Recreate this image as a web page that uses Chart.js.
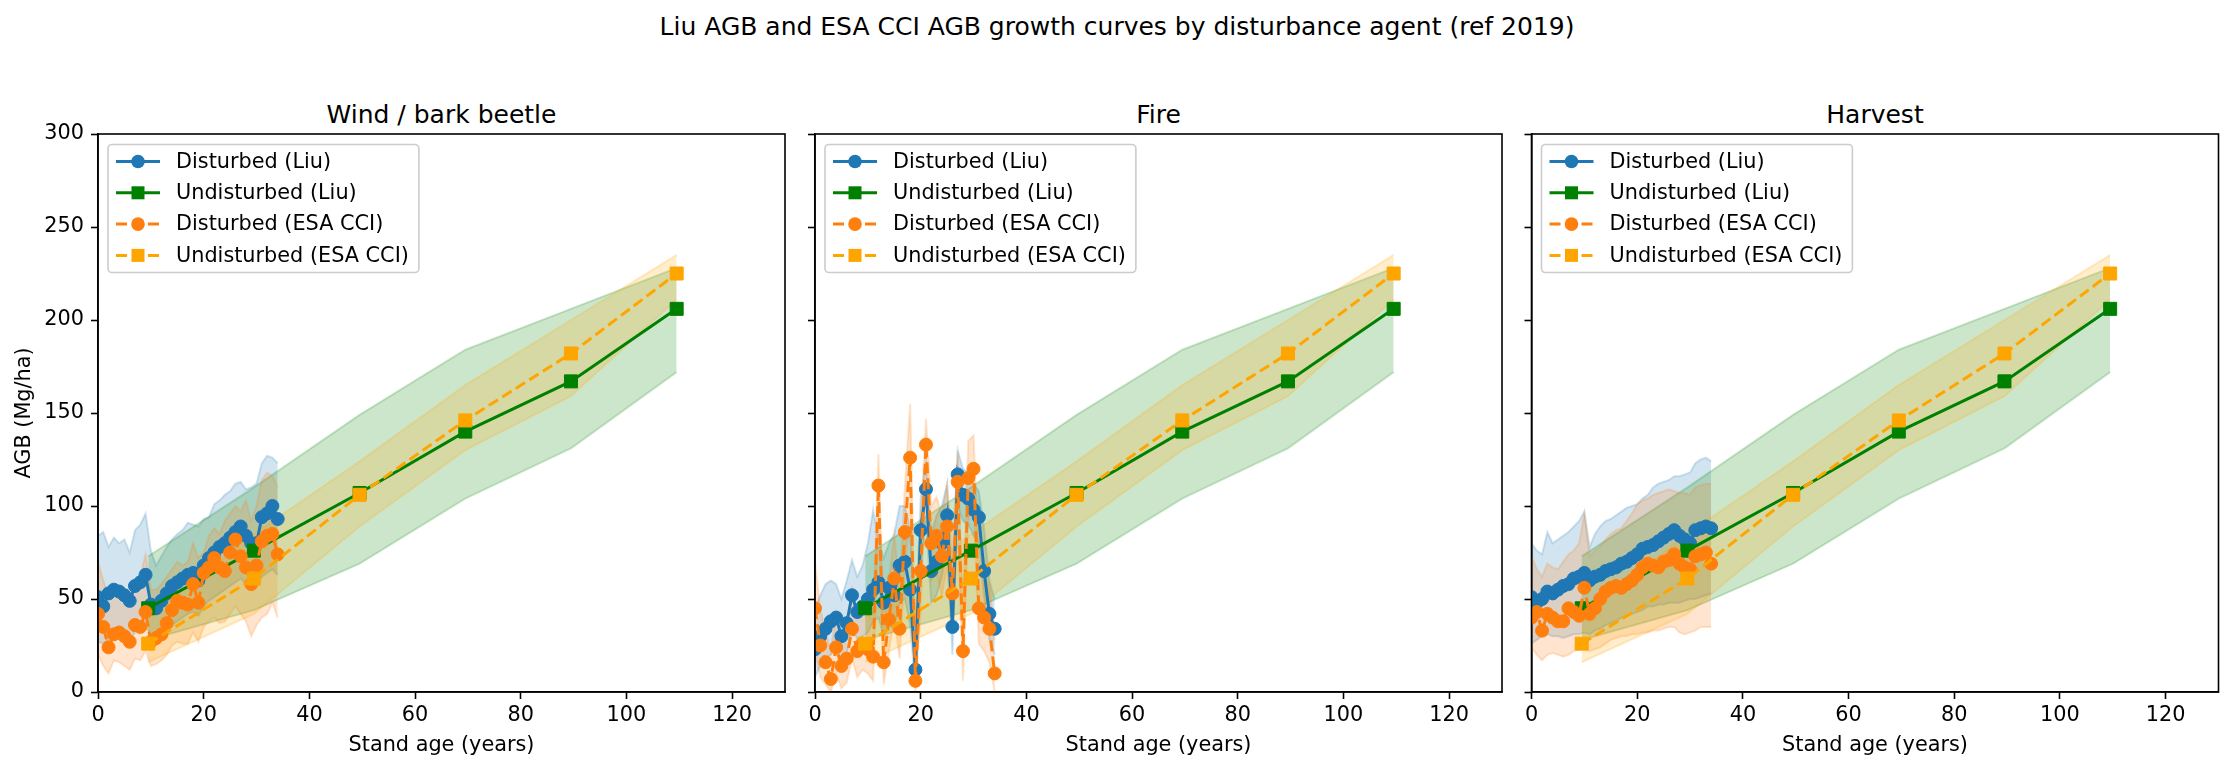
<!DOCTYPE html>
<html>
<head>
<meta charset="utf-8">
<script src="https://cdn.jsdelivr.net/npm/chart.js@4.4.1/dist/chart.umd.min.js"></script>
<style>
  body { margin: 0; background: #fff; }
  #fig { position: relative; width: 2234px; height: 770px; font-family: 'DejaVu Sans', sans-serif; color: #000; }
  #fig canvas { position: absolute; left: 0; top: 0; }
  .t { position: absolute; font-size: 25px; transform: translate(-50%, -50%); white-space: nowrap; }
</style>
</head>
<body>
<div id="fig">
  <div class="t" style="left:1117px;top:26px">Liu AGB and ESA CCI AGB growth curves by disturbance agent (ref 2019)</div>
  <div class="t" id="title0" style="top:114px">Wind / bark beetle</div>
  <div class="t" id="title1" style="top:114px">Fire</div>
  <div class="t" id="title2" style="top:114px">Harvest</div>
  <canvas id="c0" width="2234" height="770"></canvas>
  <canvas id="c1" width="2234" height="770"></canvas>
  <canvas id="c2" width="2234" height="770"></canvas>
</div>
<script>
// stand ages of the disturbed series (years since disturbance)
const ages = [0,1,2,3,4,5,6,7,8,9,10,11,12,13,14,15,16,17,18,19,20,21,22,23,24,25,26,27,28,29,30,31,32,33,34];

// wind / bark beetle
const windLiu   = [51,46,53,55,54,52,49,57,59,63,47,45,49,53,57,59,61,63,64,60,68,72,75,78,80,83,86,89,84,80,80,94,96,100,93];
const windLiuHi = [84,86,78,83,80,82,75,87,90,96,76,68,73,78,82,85,87,91,90,89,93,94,101,103,106,108,112,113,109,110,112,123,127,126,123];
const windLiuLo = [27,26,28,30,30,29,28,32,34,36,30,28,31,34,36,38,40,42,43,41,46,49,51,53,55,57,59,61,58,55,57,62,64,66,63];
const windEsa   = [42,35,24,31,32,30,27,36,35,43,27,29,31,37,44,49,48,47,58,48,64,67,72,67,65,75,82,73,67,58,68,81,84,85,74];
const windEsaHi = [70,60,52,56,57,55,52,60,62,74,55,55,58,62,66,70,68,70,80,72,75,84,88,85,92,96,100,97,103,92,100,114,118,116,110];
const windEsaLo = [20,14,10,17,16,14,12,18,17,22,14,15,17,20,25,27,26,26,32,27,35,38,40,37,38,42,46,42,38,30,36,40,42,48,40];

// fire
const fireLiu   = [23,30,34,38,40,30,37,52,43,46,50,55,59,48,56,52,68,70,55,12,87,109,65,70,80,95,35,117,106,104,98,94,65,42,34];
const fireLiuHi = [45,52,58,60,58,50,60,71,62,68,80,98,82,72,80,85,100,100,88,30,105,125,85,95,100,112,55,130,120,118,112,108,88,60,50];
const fireLiuLo = [8,14,18,20,24,16,20,35,28,30,32,38,40,30,36,34,48,50,36,2,68,92,48,52,62,78,20,100,92,90,84,80,52,28,20];
const fireEsa   = [45,25,16,7,24,14,18,34,22,26,23,19,111,16,39,61,34,86,126,6,65,133,80,84,73,89,53,113,22,115,120,45,40,34,10];
const fireEsaHi = [70,45,32,22,42,30,36,55,40,44,42,38,128,35,60,85,55,110,155,22,90,147,100,105,95,112,75,130,45,135,138,70,62,58,28];
const fireEsaLo = [22,8,4,0,10,2,5,18,8,12,10,6,90,4,22,40,18,64,100,0,44,112,60,64,52,68,32,90,6,92,100,26,22,16,0];

// harvest
const harvLiu   = [51,48,50,54,53,55,57,58,61,62,64,60,62,63,65,66,67,69,70,72,74,77,78,79,81,83,85,87,84,82,80,87,88,89,88];
const harvLiuHi = [80,76,74,86,80,82,84,86,89,92,97,78,85,89,92,93,95,97,99,100,101,104,106,110,112,113,114,116,116,117,118,123,125,126,124];
const harvLiuLo = [26,28,30,31,30,30,29,30,31,31,32,31,33,34,36,37,38,40,41,42,43,44,46,46,47,47,48,48,48,49,50,50,51,52,53];
const harvEsa   = [40,43,33,42,40,38,38,45,43,41,56,42,45,50,54,56,57,56,58,60,63,67,69,68,67,70,71,74,69,67,66,73,74,75,69];
const harvEsaHi = [73,66,62,69,67,66,70,74,76,80,96,73,76,78,82,85,87,88,92,96,101,103,104,106,107,108,109,108,107,107,106,110,111,112,112];
const harvEsaLo = [24,20,17,20,21,20,19,20,22,23,24,22,23,24,26,28,29,30,30,31,31,32,32,33,33,34,35,35,32,31,32,33,35,35,35];

// undisturbed reference curves (same in every panel)
const undAges  = [9.5, 29.5, 49.5, 69.5, 89.5, 109.5];
const undLiu   = [45, 76, 107, 140, 167, 206];
const undLiuHi = [73, 110, 149, 184, 206, 228];
const undLiuLo = [28, 44, 69, 104, 131, 172];
const undEsa   = [26, 61, 106, 146, 182, 225];
const undEsaHi = [40, 85, 124, 165, 200, 235];
const undEsaLo = [16, 42, 89, 130, 159, 211];

const xTicks = [0, 20, 40, 60, 80, 100, 120];
const yTicks = [0, 50, 100, 150, 200, 250, 300];

const panels = [
  { liu: windLiu, liuHi: windLiuHi, liuLo: windLiuLo, esa: windEsa, esaHi: windEsaHi, esaLo: windEsaLo },
  { liu: fireLiu, liuHi: fireLiuHi, liuLo: fireLiuLo, esa: fireEsa, esaHi: fireEsaHi, esaLo: fireEsaLo },
  { liu: harvLiu, liuHi: harvLiuHi, liuLo: harvLiuLo, esa: harvEsa, esaHi: harvEsaHi, esaLo: harvEsaLo }
];

// plot-area boxes in page pixels
const boxLeft = [98, 815, 1531.5];
const boxWidth = 687;
const boxTop = 134;
const boxBottom = 692;
const yAxisW = 90;
const xAxisH = 68;
const FS = 20.8;

const BLUE = '31,119,180', GREEN = '0,128,0', TABORANGE = '255,127,14', ORANGE = '255,165,0';

Chart.defaults.font.family = "'DejaVu Sans', sans-serif";
Chart.defaults.font.size = FS;
Chart.defaults.color = '#000';

const pts = (xs, ys) => xs.map((x, i) => ({ x: x, y: ys[i] }));

function band(xs, hi, lo, rgb, ord) {
  const c = 'rgba(' + rgb + ',0.2)';
  return [
    { data: pts(xs, hi), fill: '+1', backgroundColor: c, borderColor: c, borderWidth: 2, pointRadius: 0, order: ord },
    { data: pts(xs, lo), fill: false, borderColor: c, borderWidth: 2, pointRadius: 0, order: ord }
  ];
}

function line(label, xs, ys, rgb, style, dashed, ord) {
  const c = 'rgb(' + rgb + ')';
  return {
    label: label, legend: true, data: pts(xs, ys), fill: false,
    borderColor: c, backgroundColor: c, borderWidth: 3,
    borderDash: dashed ? [11, 5] : [],
    pointStyle: style, pointRadius: style === 'rect' ? 9.2 : 6.5,
    pointBorderWidth: 1, pointBackgroundColor: c, pointBorderColor: c,
    order: ord
  };
}

// black frame round the plot area
const spines = {
  id: 'spines',
  afterDatasetsDraw(chart) {
    const a = chart.chartArea, ctx = chart.ctx;
    ctx.save();
    ctx.strokeStyle = '#000';
    ctx.lineWidth = 1.6;
    ctx.strokeRect(a.left, a.top, a.right - a.left, a.bottom - a.top);
    ctx.restore();
  }
};

// matplotlib-like legend: line sample with marker
const mplLegend = {
  id: 'mplLegend',
  afterDraw(chart) {
    const ctx = chart.ctx, a = chart.chartArea;
    const items = chart.data.datasets.filter(d => d.legend);
    ctx.save();
    ctx.font = FS + "px 'DejaVu Sans'";
    const tw = Math.max(...items.map(d => ctx.measureText(d.label).width));
    const x0 = a.left + 10, y0 = a.top + 10.5;
    const w = 68 + tw + 10, h = 128;
    ctx.beginPath();
    ctx.roundRect(x0, y0, w, h, 4);
    ctx.fillStyle = 'rgba(255,255,255,0.8)';
    ctx.fill();
    ctx.strokeStyle = '#cccccc';
    ctx.lineWidth = 1.6;
    ctx.stroke();
    items.forEach((d, i) => {
      const y = y0 + 17 + i * 31.3;
      ctx.beginPath();
      ctx.setLineDash(d.borderDash);
      ctx.strokeStyle = d.borderColor;
      ctx.lineWidth = 3;
      ctx.moveTo(x0 + 8, y);
      ctx.lineTo(x0 + 52, y);
      ctx.stroke();
      ctx.setLineDash([]);
      ctx.fillStyle = d.borderColor;
      ctx.beginPath();
      if (d.pointStyle === 'rect') ctx.rect(x0 + 30 - 6.5, y - 6.5, 13, 13);
      else ctx.arc(x0 + 30, y, 6.8, 0, Math.PI * 2);
      ctx.fill();
      ctx.fillStyle = '#000';
      ctx.textBaseline = 'middle';
      ctx.fillText(d.label, x0 + 68, y + 1);
    });
    ctx.restore();
  }
};

panels.forEach((p, k) => {
  const left = boxLeft[k];
  document.getElementById('title' + k).style.left = (left + boxWidth / 2) + 'px';

  const datasets = [].concat(
    band(ages, p.liuHi, p.liuLo, BLUE, 20),
    band(undAges, undLiuHi, undLiuLo, GREEN, 19),
    band(ages, p.esaHi, p.esaLo, TABORANGE, 18),
    band(undAges, undEsaHi, undEsaLo, ORANGE, 17),
    [
      line('Disturbed (Liu)', ages, p.liu, BLUE, 'circle', false, 4),
      line('Undisturbed (Liu)', undAges, undLiu, GREEN, 'rect', false, 3),
      line('Disturbed (ESA CCI)', ages, p.esa, TABORANGE, 'circle', true, 2),
      line('Undisturbed (ESA CCI)', undAges, undEsa, ORANGE, 'rect', true, 1)
    ]
  );

  new Chart(document.getElementById('c' + k), {
    type: 'line',
    data: { datasets: datasets },
    options: {
      responsive: false,
      animation: false,
      devicePixelRatio: 1,
      events: [],
      elements: { line: { tension: 0 } },
      layout: {
        padding: {
          left: left - yAxisW,
          right: 2234 - left - boxWidth,
          top: boxTop,
          bottom: 770 - boxBottom - xAxisH
        }
      },
      plugins: { legend: { display: false }, tooltip: { enabled: false } },
      scales: {
        x: {
          type: 'linear', min: 0, max: 130,
          afterFit: s => { s.height = xAxisH; },
          afterBuildTicks: s => { s.ticks = xTicks.map(v => ({ value: v })); },
          ticks: { padding: 4, maxRotation: 0, autoSkip: false, includeBounds: false },
          grid: { drawOnChartArea: false, tickLength: 7, tickWidth: 1.6, tickColor: '#000' },
          border: { display: true, color: '#000', width: 1.6 },
          title: { display: true, text: 'Stand age (years)', font: { size: FS }, padding: { top: 4, bottom: 2 } }
        },
        y: {
          type: 'linear', min: 0, max: 300,
          afterFit: s => { s.width = yAxisW; },
          afterBuildTicks: s => { s.ticks = yTicks.map(v => ({ value: v })); },
          ticks: { display: k === 0, padding: 7, autoSkip: false },
          grid: { drawOnChartArea: false, tickLength: 7, tickWidth: 1.6, tickColor: '#000' },
          border: { display: true, color: '#000', width: 1.6 },
          title: { display: k === 0, text: 'AGB (Mg/ha)', font: { size: FS } }
        }
      }
    },
    plugins: [spines, mplLegend]
  });
});
</script>
</body>
</html>
